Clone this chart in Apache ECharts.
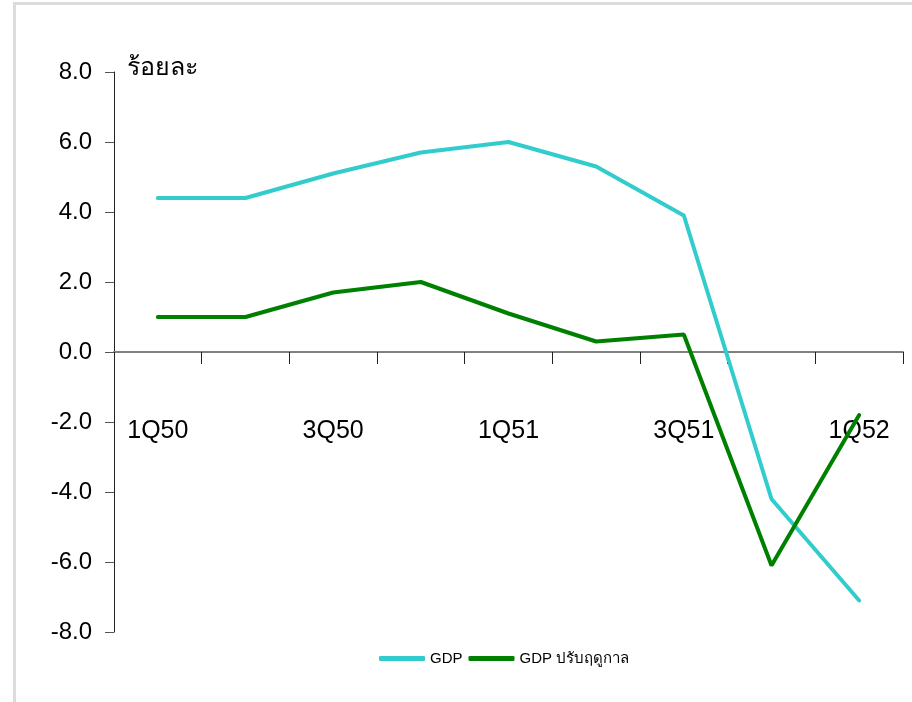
<!DOCTYPE html>
<html>
<head>
<meta charset="utf-8">
<script src="https://cdn.jsdelivr.net/npm/echarts@6/dist/echarts.min.js"></script>
<style>
html,body{margin:0;padding:0;background:#fff;}
#chart{width:912px;height:702px;position:absolute;left:0;top:0;}
#frame{position:absolute;left:13px;top:2px;width:1000px;height:800px;border-left:3px solid #dcdcdc;border-top:3px solid #dcdcdc;pointer-events:none;}
</style>
</head>
<body>
<div id="chart"></div>
<div id="frame"></div>
<script>
const categories = ['1Q50','2Q50','3Q50','4Q50','1Q51','2Q51','3Q51','4Q51','1Q52'];
const gdp = [4.4, 4.4, 5.1, 5.7, 6.0, 5.3, 3.9, -4.2, -7.1];
const gdpSA = [1.0, 1.0, 1.7, 2.0, 1.1, 0.3, 0.5, -6.1, -1.8];
const seriesNames = ['GDP', 'GDP ปรับฤดูกาล'];
const yUnit = 'ร้อยละ';

const FONT = '"Liberation Sans Narrow", "Liberation Sans", "Noto Sans", sans-serif';

const chart = echarts.init(document.getElementById('chart'), null, {renderer:'canvas'});
chart.setOption({
  animation: false,
  backgroundColor: '#ffffff',
  grid: {left: 114, right: 9, top: 72, bottom: 70, containLabel: false, outerBoundsMode: 'none'},
  legend: {
    left: 374, top: 646,
    icon: 'roundRect',
    itemWidth: 46, itemHeight: 5, itemGap: 6,
    textStyle: {fontFamily: FONT, fontSize: 15, color: '#000'},
    data: seriesNames
  },
  graphic: [{
    type: 'text', left: 127, top: 56,
    style: {text: yUnit, font: '25px ' + FONT, fill: '#000'}
  }],
  xAxis: [{
    type: 'category',
    data: categories,
    boundaryGap: true,
    axisLine: {onZero: true, lineStyle: {color: '#808080', width: 2}},
    axisTick: {show: true, interval: 0, length: 12, lineStyle: {color: '#222', width: 1}},
    axisLabel: {show: false},
    splitLine: {show: false}
  }, {
    type: 'category',
    data: categories,
    position: 'bottom',
    boundaryGap: true,
    axisLine: {show: false, onZero: false},
    axisTick: {show: false},
    axisLabel: {interval: 1, margin: -213, fontFamily: FONT, fontSize: 25, color: '#000'},
    splitLine: {show: false}
  }],
  yAxis: {
    type: 'value',
    min: -8, max: 8, interval: 2,
    axisLine: {show: true, lineStyle: {color: '#222', width: 1}},
    axisTick: {show: true, length: 9, lineStyle: {color: '#555', width: 1}},
    axisLabel: {margin: 22, fontFamily: FONT, fontSize: 24, color: '#000',
      formatter: v => v.toFixed(1)},
    splitLine: {show: false}
  },
  series: [
    {name: seriesNames[0], type: 'line', data: gdp, symbol: 'none', xAxisIndex: 0,
     lineStyle: {color: '#33CCCC', width: 4, cap: 'round'}, itemStyle: {color: '#33CCCC'}, z: 3},
    {name: seriesNames[1], type: 'line', data: gdpSA, symbol: 'none', xAxisIndex: 0,
     lineStyle: {color: '#008000', width: 4, cap: 'round'}, itemStyle: {color: '#008000'}, z: 4}
  ]
});
</script>
</body>
</html>
